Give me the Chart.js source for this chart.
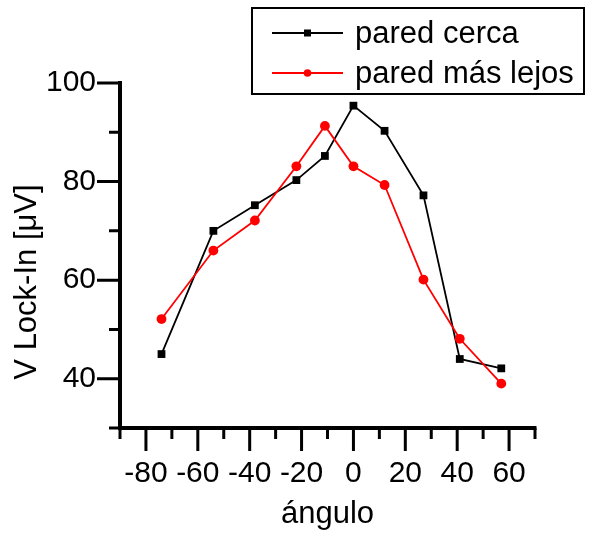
<!DOCTYPE html>
<html>
<head>
<meta charset="utf-8">
<script src="https://cdn.jsdelivr.net/npm/chart.js@4/dist/chart.umd.min.js"></script>
<style>
  html, body { margin: 0; padding: 0; background: #fff; }
  #wrap { width: 591px; height: 536px; }
</style>
</head>
<body>
<div id="wrap"><canvas id="chart" width="591" height="536"></canvas></div>
<script>
"use strict";

var angles = [-74, -54, -38, -22, -11, 0, 12, 27, 41, 57];
var paredCerca = [45, 70, 75.2, 80.3, 85.2, 95.4, 90.3, 77.2, 44, 42.1];
var paredLejos = [52.1, 66, 72.1, 83.1, 91.3, 83.1, 79.3, 60.1, 48.1, 39];
var seriesLabels = ["pared cerca", "pared más lejos"];
var xTitle = "ángulo";
var yTitle = "V Lock-In [μV]";

var FONT = "'Liberation Sans', Arial, sans-serif";

function toPoints(xs, ys) {
  return xs.map(function(x, i) { return { x: x, y: ys[i] }; });
}

// axes, outward ticks (major + minor), titles and the boxed legend
var decorations = {
  id: "decorations",
  afterDraw: function(chart) {
    var ctx = chart.ctx;
    var area = chart.chartArea;
    var xs = chart.scales.x;
    var ys = chart.scales.y;

    ctx.save();
    ctx.strokeStyle = "#000";
    ctx.lineCap = "butt";

    ctx.lineWidth = 3;
    ctx.beginPath();
    xs.ticks.forEach(function(t) {
      var px = xs.getPixelForValue(t.value);
      var len = (t.value % 20 === 0) ? 23 : 11;
      ctx.moveTo(px, area.bottom);
      ctx.lineTo(px, area.bottom + len);
    });
    ys.ticks.forEach(function(t) {
      var py = ys.getPixelForValue(t.value);
      var len = (t.value % 20 === 0) ? 23 : 11;
      ctx.moveTo(area.left, py);
      ctx.lineTo(area.left - len, py);
    });
    ctx.stroke();

    ctx.lineWidth = 4;
    ctx.beginPath();
    ctx.moveTo(area.left, area.top - 2);
    ctx.lineTo(area.left, area.bottom);
    ctx.moveTo(area.left - 2, area.bottom);
    ctx.lineTo(area.right + 1.5, area.bottom);
    ctx.stroke();

    ctx.fillStyle = "#000";
    ctx.font = "31px " + FONT;
    ctx.textAlign = "center";
    ctx.textBaseline = "alphabetic";
    ctx.fillText(xTitle, (area.left + area.right) / 2, 523);

    ctx.save();
    ctx.translate(27, 282);
    ctx.rotate(-Math.PI / 2);
    ctx.textBaseline = "middle";
    ctx.fillText(yTitle, 0, 0);
    ctx.restore();

    // legend box
    ctx.fillStyle = "#fff";
    ctx.fillRect(252, 8, 332, 86);
    ctx.lineWidth = 2;
    ctx.strokeRect(252, 8, 332, 86);

    var rows = [33, 73];
    chart.data.datasets.forEach(function(ds, i) {
      var y = rows[i];
      ctx.strokeStyle = ds.borderColor;
      ctx.lineWidth = 2;
      ctx.beginPath();
      ctx.moveTo(272, y);
      ctx.lineTo(343, y);
      ctx.stroke();
      ctx.fillStyle = ds.backgroundColor;
      if (ds.pointStyle === "rect") {
        ctx.fillRect(304, y - 3.5, 7, 7);
      } else {
        ctx.beginPath();
        ctx.arc(307.5, y, 3.8, 0, Math.PI * 2);
        ctx.fill();
      }
      ctx.fillStyle = "#000";
      ctx.font = "31px " + FONT;
      ctx.textAlign = "left";
      ctx.textBaseline = "middle";
      ctx.fillText(ds.label, 355, y + 1);
    });
    ctx.restore();
  }
};

var chart = new Chart(document.getElementById("chart"), {
  type: "line",
  data: {
    datasets: [{
      label: seriesLabels[0],
      data: toPoints(angles, paredCerca),
      borderColor: "#000",
      backgroundColor: "#000",
      borderWidth: 1.8,
      pointStyle: "rect",
      pointRadius: 5.5,
      pointBorderWidth: 0,
      pointBackgroundColor: "#000",
      tension: 0,
      order: 1
    }, {
      label: seriesLabels[1],
      data: toPoints(angles, paredLejos),
      borderColor: "#ff0000",
      backgroundColor: "#ff0000",
      borderWidth: 1.8,
      pointStyle: "circle",
      pointRadius: 4.9,
      pointBorderWidth: 0,
      pointBackgroundColor: "#ff0000",
      tension: 0,
      order: 0
    }]
  },
  options: {
    responsive: false,
    animation: false,
    devicePixelRatio: 1,
    layout: { padding: { top: 83, right: 56, left: 0, bottom: 0 } },
    plugins: {
      legend: { display: false },
      tooltip: { enabled: false }
    },
    scales: {
      x: {
        type: "linear",
        min: -90,
        max: 70,
        grid: { display: false },
        border: { display: false },
        afterFit: function(scale) { scale.height = 108; },
        ticks: {
          stepSize: 10,
          autoSkip: false,
          maxRotation: 0,
          padding: 20,
          color: "#000",
          font: { family: FONT, size: 30 },
          callback: function(v) { return v % 20 === 0 ? String(v) : ""; }
        }
      },
      y: {
        type: "linear",
        min: 30,
        max: 100,
        grid: { display: false },
        border: { display: false },
        afterFit: function(scale) { scale.width = 120; },
        ticks: {
          stepSize: 10,
          padding: 16,
          color: "#000",
          font: { family: FONT, size: 30 },
          callback: function(v) { return v % 20 === 0 ? String(v) : ""; }
        }
      }
    }
  },
  plugins: [decorations]
});
</script>
</body>
</html>
